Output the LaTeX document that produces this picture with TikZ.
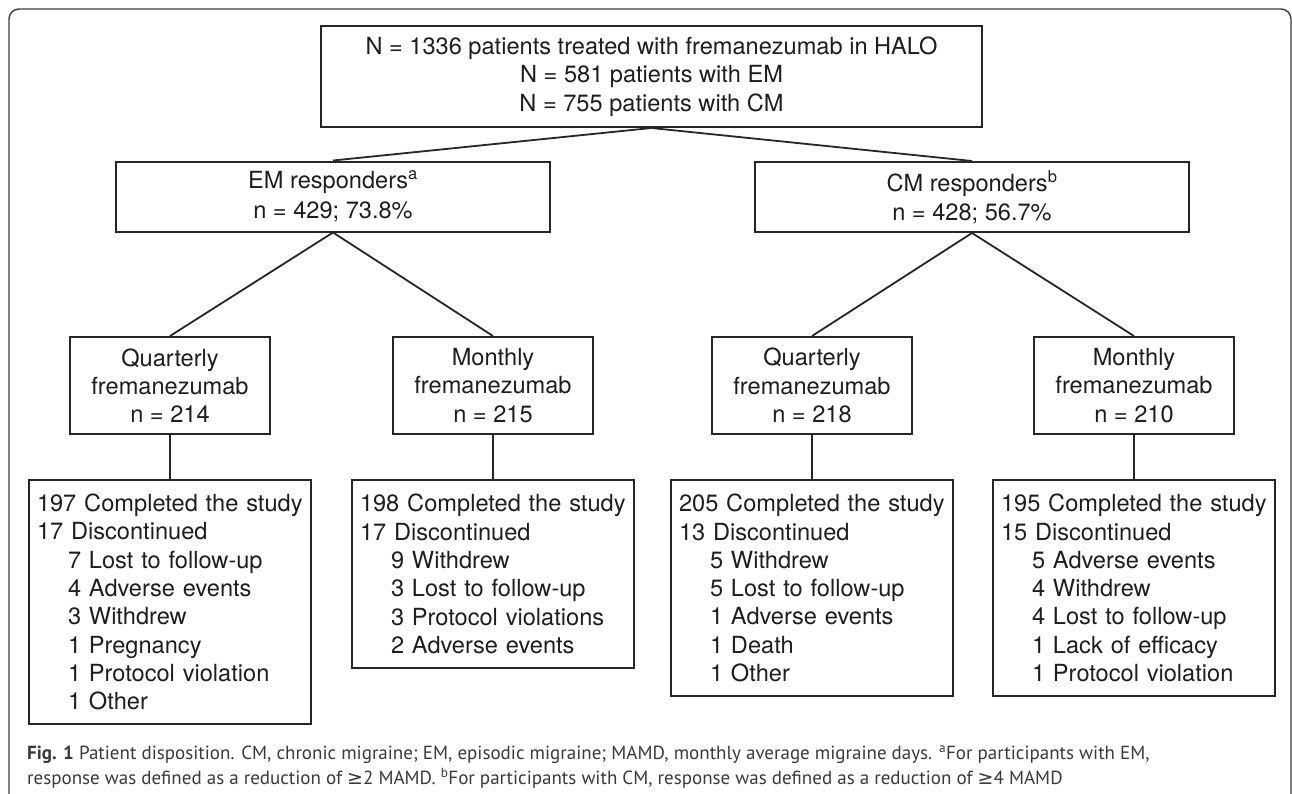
\documentclass[tikz,border=0pt]{standalone}
\usepackage{fontspec}
\setmainfont{TeX Gyre Heros}
\newfontfamily\capfont{PT Sans}
\newfontfamily\symfont{DejaVu Sans}
\definecolor{boxline}{HTML}{262626}
\definecolor{txt}{HTML}{1E1E1E}
\definecolor{captxt}{HTML}{3A3A3A}
\definecolor{framec}{HTML}{3C3C3C}
\newcommand\boxfont{\fontsize{23.6}{28.3}\selectfont}
\tikzset{
  box/.style={draw=boxline, line width=2pt, inner sep=0pt, font=\boxfont, text=txt},
  centerbox/.style={box, align=center},
  respbox/.style={centerbox, minimum width=434pt, minimum height=70pt},
  armbox/.style={centerbox, minimum width=200pt, minimum height=97pt},
  detail/.style={box, anchor=north, minimum width=282pt, text width=266pt, inner xsep=8pt, align=left},
  link/.style={draw=boxline, line width=1.8pt},
  capline/.style={anchor=base west, inner sep=0pt, font=\capfont\fontsize{19}{25}\selectfont, text=captxt},
  frameline/.style={draw=framec, line width=1.4pt, rounded corners=10pt}
}
\newcommand\ind{\hspace*{31pt}}
\begin{document}
\begin{tikzpicture}[x=1pt,y=-1pt]
\useasboundingbox (0,0) rectangle (1292,793);
\clip (0,0) rectangle (1292,793);
\fill[white] (0,0) rectangle (1292,793);
\draw[frameline] (9,830) -- (9,9) -- (1291,9) -- (1291,830);

\node[centerbox, minimum width=661pt, minimum height=101pt] (top) at (651.5,76.5)
  {N = 1336 patients treated with fremanezumab in HALO\\N = 581 patients with EM\\N = 755 patients with CM};

\node[respbox] (em) at (333,196.5) {EM responders\textsuperscript{a}\\[1.2pt]n = 429; 73.8\%};
\node[respbox] (cm) at (972,197) {CM responders\textsuperscript{b}\\[1.2pt]n = 428; 56.7\%};

\node[armbox] (emq) at (170,385.5) {Quarterly\\fremanezumab\\n = 214};
\node[armbox] (emm) at (493,385.5) {Monthly\\fremanezumab\\n = 215};
\node[armbox] (cmq) at (812,385.5) {Quarterly\\fremanezumab\\n = 218};
\node[armbox] (cmm) at (1134,385.5) {Monthly\\fremanezumab\\n = 210};

\node[detail, minimum height=244pt] (emqd) at (170,479)
  {197 Completed the study\\17 Discontinued\\\ind 7 Lost to follow-up\\\ind 4 Adverse events\\\ind 3 Withdrew\\\ind 1 Pregnancy\\\ind 1 Protocol violation\\\ind 1 Other};
\node[detail, minimum height=188pt] (emmd) at (493,479)
  {198 Completed the study\\17 Discontinued\\\ind 9 Withdrew\\\ind 3 Lost to follow-up\\\ind 3 Protocol violations\\\ind 2 Adverse events};
\node[detail, minimum height=216pt] (cmqd) at (812,479)
  {205 Completed the study\\13 Discontinued\\\ind 5 Withdrew\\\ind 5 Lost to follow-up\\\ind 1 Adverse events\\\ind 1 Death\\\ind 1 Other};
\node[detail, minimum height=216pt] (cmmd) at (1134,479)
  {195 Completed the study\\15 Discontinued\\\ind 5 Adverse events\\\ind 4 Withdrew\\\ind 4 Lost to follow-up\\\ind 1 Lack of efficacy\\\ind 1 Protocol violation};

\draw[link] (top.south) -- (em.north);
\draw[link] (top.south) -- (cm.north);
\draw[link] (em.south) -- (emq.north);
\draw[link] (em.south) -- (emm.north);
\draw[link] (cm.south) -- (cmq.north);
\draw[link] (cm.south) -- (cmm.north);
\draw[link] (emq.south) -- (emqd.north);
\draw[link] (emm.south) -- (emmd.north);
\draw[link] (cmq.south) -- (cmqd.north);
\draw[link] (cmm.south) -- (cmmd.north);

\node[capline] (cap1) at (27,759) {\textbf{Fig. 1} Patient disposition. CM, chronic migraine; EM, episodic migraine; MAMD, monthly average migraine days. \textsuperscript{a}For participants with EM,};
\node[capline] (cap2) at (27,784) {response was defined as a reduction of {\symfont ≥}2 MAMD. \textsuperscript{b}For participants with CM, response was defined as a reduction of {\symfont ≥}4 MAMD};
\end{tikzpicture}
\end{document}
